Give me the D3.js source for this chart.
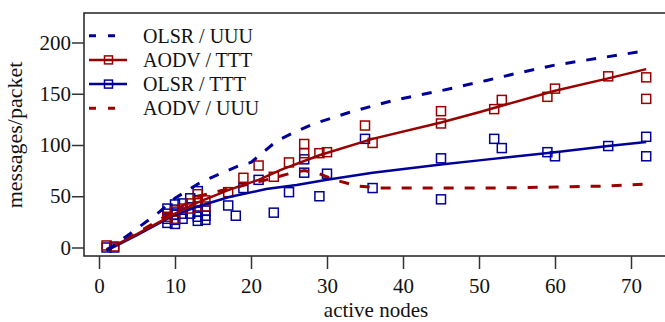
<!DOCTYPE html>
<html>
<head>
    <meta charset='utf-8' />
    <title>messages per packet</title>
    <style>
      body{ margin:0; background:#fff; }
      svg{ display:block; }
      text{ font-family: 'Liberation Serif', 'Times New Roman', serif; fill:#111; }
    </style>
</head>
<body>
<script src="https://d3js.org/d3.v7.min.js"></script>
<script>

// scatter samples (active nodes, messages/packet)
let aodvTTT_x = [1,2,9,10,10,11,12,12,13,13,14,14,17,19,21,23,25,27,27,29,30,35,36,45,45,52,53,59,60,67,72,72]
let aodvTTT_y = [2,1,30,35,28,38,43,38,52,45,46,40,54,68,80,69,83,101,92,92,93,119,102,133,121,135,144,147,155,167,166,145]

let olsrTTT_x = [1,2,9,9,9,9,10,10,10,10,10,11,11,11,12,12,13,13,13,13,13,14,14,14,17,18,19,21,23,25,27,27,29,30,35,36,45,45,52,53,59,60,67,72,72]
let olsrTTT_y = [0,0,38,33,28,24,42,37,32,27,23,43,33,28,48,33,55,40,35,30,26,36,31,27,41,31,58,66,34,54,86,73,50,72,106,58,87,47,106,97,93,89,99,108,89]

// fitted curves
let olsrUUU_line = [[1,-3],[4,13],[8,35],[10,48],[13,62],[15,69],[18.5,80],[20,83],[23.4,104],[25.6,112],[28,120],[33,132],[39,144],[45,153],[51,163],[55,170],[60,178],[66,185],[72,192]]
let aodvTTT_line = [[1,-2],[5,13],[10,33],[13,44],[17,56],[21,66],[24,76],[29,90],[36,106],[45,122],[50,132],[60,153],[67,165],[72,174]]
let olsrTTT_line = [[1,-3],[5,12],[10,32],[13,40],[17,49],[22,57],[26,61],[30,66],[36,73],[45,81],[50,85],[60,93],[67,99],[72,103]]
let aodvUUU_line = [[1,-2],[5,14],[10,36],[13,50],[17,57],[22,66],[25,72],[27,75],[29,72],[31,66],[34,60],[37,58],[45,58],[52,58],[60,59],[67,60],[72,62]]

let xTicks = [0,10,20,30,40,50,60,70]
let yTicks = [0,50,100,150,200]

let legendItems = [
  {name:'OLSR / UUU', color:'#000099', dash:true},
  {name:'AODV / TTT', color:'#990000', dash:false},
  {name:'OLSR / TTT', color:'#000099', dash:false},
  {name:'AODV / UUU', color:'#990000', dash:true}
]

let width = 665, height = 322,
  pLeft = 84, pTop = 13, pBottom = 256

let svg = d3.select('body').append('svg').attr('width',width).attr('height',height)

let x = d3.scaleLinear().domain([0,70]).range([99,631]),
  y = d3.scaleLinear().domain([0,200]).range([247.5,42.5])

// frame
svg.append('path')
  .attr('d','M'+(width+2)+','+pTop+'H'+pLeft+'V'+pBottom+'H'+(width+2))
  .style('fill','none').style('stroke','#222').style('stroke-width',1.5)

let xa = svg.append('g').attr('transform','translate(0,'+pBottom+')')
  .call(d3.axisBottom(x).tickValues(xTicks).tickSize(13).tickPadding(9).tickFormat(d3.format('d')))
let ya = svg.append('g').attr('transform','translate('+pLeft+',0)')
  .call(d3.axisLeft(y).tickValues(yTicks).tickSize(12).tickPadding(1).tickFormat(d3.format('d')))

;[xa,ya].forEach(a => {
  a.select('.domain').remove()
  a.selectAll('line').style('stroke','#333').style('stroke-width',1.5)
  a.selectAll('text').style('font-size','21px').style('font-family',"'Liberation Serif', serif").style('fill','#111')
})

svg.append('text').text('active nodes')
  .attr('x',376).attr('y',317)
  .attr('text-anchor','middle').style('font-size','21px')

svg.append('text').text('messages/packet')
  .attr('transform','translate(22,135) rotate(-90)')
  .attr('text-anchor','middle').style('font-size','22px')

// squares
let sq = 9
function squares(xs, ys, color){
  svg.append('g').selectAll('rect').data(xs).enter().append('rect')
    .attr('x',(d) => x(d)-sq/2)
    .attr('y',(d,i) => y(ys[i])-sq/2)
    .attr('width',sq).attr('height',sq)
    .style('fill','none').style('stroke',color).style('stroke-width',1.5)
}
squares(olsrTTT_x, olsrTTT_y, '#000099')
squares(aodvTTT_x, aodvTTT_y, '#990000')

let line = d3.line().x(d => x(d[0])).y(d => y(d[1]))

function curve(data, color, dash){
  svg.append('path').datum(data).attr('d',line)
    .style('fill','none').style('stroke',color)
    .style('stroke-width',dash ? 3 : 2.5)
    .style('stroke-dasharray',dash ? '10,11' : null)
}
curve(aodvUUU_line, '#990000', true)
curve(olsrTTT_line, '#000099', false)
curve(aodvTTT_line, '#990000', false)
curve(olsrUUU_line, '#000099', true)

// legend
let lg = svg.append('g')
legendItems.forEach((d,i) => {
  let cy = 35.7 + i*24.2
  if(d.dash){
    lg.append('line').attr('x1',89).attr('x2',116).attr('y1',cy).attr('y2',cy)
      .style('stroke',d.color).style('stroke-width',3).style('stroke-dasharray','7,12')
  }else{
    lg.append('line').attr('x1',89).attr('x2',127).attr('y1',cy).attr('y2',cy)
      .style('stroke',d.color).style('stroke-width',2.5)
    lg.append('rect').attr('x',108.5-4).attr('y',cy-4).attr('width',8).attr('height',8)
      .style('fill','none').style('stroke',d.color).style('stroke-width',1.5)
  }
  lg.append('text').text(d.name).attr('x',143).attr('y',cy+7)
    .style('font-size','20px')
})

</script>
</body>
</html>
